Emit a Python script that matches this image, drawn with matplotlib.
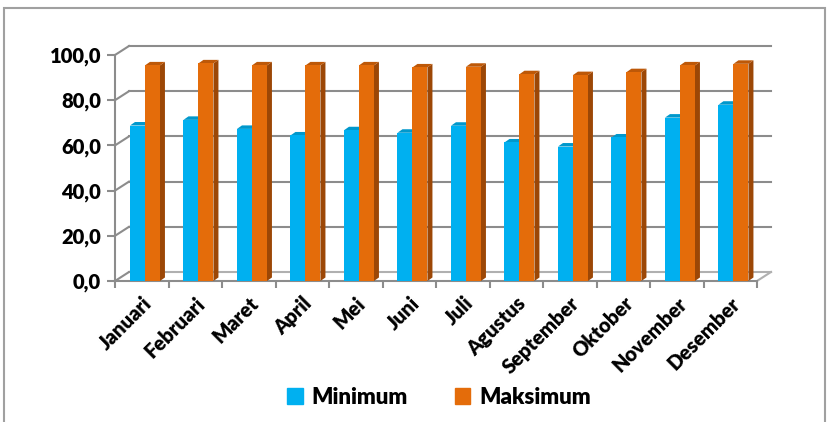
import matplotlib
matplotlib.use('Agg')
import matplotlib.pyplot as plt
from matplotlib.patches import Polygon, Rectangle
from matplotlib.ticker import FixedLocator

plt.rcParams['font.family'] = ['Lato', 'DejaVu Sans']

months = ['Januari', 'Februari', 'Maret', 'April', 'Mei', 'Juni', 'Juli',
          'Agustus', 'September', 'Oktober', 'November', 'Desember']
minimum = [68.8, 71.3, 67.3, 64.4, 66.7, 65.6, 68.7, 61.3, 59.5, 63.5, 72.3, 78.0]
maksimum = [95.4, 96.3, 95.4, 95.4, 95.4, 94.5, 94.8, 91.5, 91.1, 92.4, 95.4, 96.1]
yticks = [0, 20, 40, 60, 80, 100]

W, H = 828, 422
fig = plt.figure(figsize=(W / 100, H / 100), dpi=100)
fig.patch.set_facecolor('white')

# front plane of the 3D chart, in pixels
x0, x1, ytop, ybot = 115, 757, 55, 281
ax = fig.add_axes([x0 / W, 1 - ybot / H, (x1 - x0) / W, (ybot - ytop) / H])
ax.set_xlim(-0.5, len(months) - 0.5)
ax.set_ylim(0, 100)

px_x = len(months) / (x1 - x0)      # x units per pixel
px_y = 100 / (ybot - ytop)          # y units per pixel

# back wall offset (depth of the chart)
wdx, wdy = 14 * px_x, 9 * px_y
grid_c = '#8c8c8c'
for v in yticks:
    ax.plot([-0.5 + wdx, len(months) - 0.5 + wdx], [v + wdy, v + wdy],
            color=grid_c if v > 0 else '#b0b0b0', lw=1.5, clip_on=False, zorder=1)
    ax.plot([-0.5, -0.5 + wdx], [v, v + wdy], color=grid_c, lw=1.5,
            clip_on=False, zorder=1)
ax.plot([len(months) - 0.5, len(months) - 0.5 + wdx], [0, wdy],
        color='#b0b0b0', lw=1.5, clip_on=False, zorder=1)

# bars with side and top faces
bw = 0.28
bdx, bdy = 5 * px_x, 3.5 * px_y
series = [
    (minimum, -0.22, '#00B0F0', '#0088BE', '#0098CC'),
    (maksimum, 0.06, '#E46C0A', '#9C4706', '#BD5808'),
]
idx = list(range(len(months)))
for vals, off, front, side, top in series:
    bars = ax.bar([i + off for i in idx], vals, width=bw, align='edge',
                  color=front, zorder=3, linewidth=0)
    for b in bars:
        l, r, h = b.get_x(), b.get_x() + b.get_width(), b.get_height()
        ax.add_patch(Polygon([(r, 0), (r + bdx, bdy), (r + bdx, h + bdy), (r, h)],
                             closed=True, color=side, lw=0, zorder=2.9, clip_on=False))
        ax.add_patch(Polygon([(l, h), (l + bdx, h + bdy), (r + bdx, h + bdy), (r, h)],
                             closed=True, color=top, lw=0, zorder=2.9, clip_on=False))

# front axes
for s in ['top', 'right']:
    ax.spines[s].set_visible(False)
ax.spines['left'].set_color(grid_c)
ax.spines['bottom'].set_color(grid_c)
ax.spines['left'].set_linewidth(1.5)
ax.spines['bottom'].set_linewidth(1.5)
ax.set_yticks(yticks)
ax.set_yticklabels([f'{v:.1f}'.replace('.', ',') for v in yticks],
                   fontsize=14.5, fontweight='heavy')
ax.tick_params(axis='y', length=6, width=1.5, color=grid_c, pad=4)
ax.set_xticks(idx)
ax.set_xticklabels(months, rotation=45, ha='right', rotation_mode='anchor',
                   fontsize=14.5, fontweight='heavy')
ax.tick_params(axis='x', length=0, pad=9)
ax.xaxis.set_minor_locator(FixedLocator([i - 0.5 for i in range(len(months) + 1)]))
ax.tick_params(axis='x', which='minor', length=5, width=1.5, color=grid_c)
ax.set_facecolor('none')

# legend
fig.legend(handles=[Rectangle((0, 0), 1, 1, color='#00B0F0'),
                    Rectangle((0, 0), 1, 1, color='#E46C0A')],
           labels=['Minimum', 'Maksimum'], loc='center', ncol=2,
           bbox_to_anchor=(439 / W, 1 - 397 / H), frameon=False,
           prop={'size': 16, 'weight': 'heavy'}, handlelength=0.7,
           handleheight=0.7, handletextpad=0.4, columnspacing=2.1)

# outer frame
fig.patches.append(Rectangle((4 / W, -0.05), 821 / W, 1 - 8 / H + 0.05,
                             transform=fig.transFigure, fill=False,
                             edgecolor='#a0a0a0', lw=1.5))

fig.savefig('out.png', dpi=100)
